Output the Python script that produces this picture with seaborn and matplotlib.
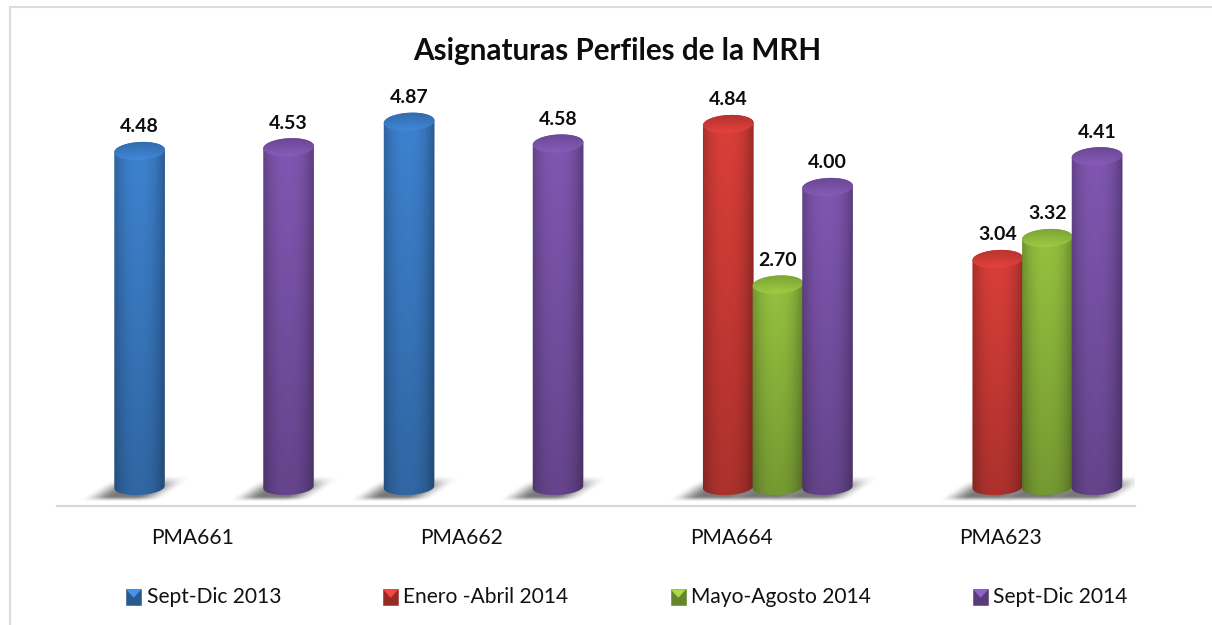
import numpy as np
import pandas as pd
import matplotlib
matplotlib.use("Agg")
import matplotlib.pyplot as plt
from matplotlib.lines import Line2D
from matplotlib.patches import Polygon, Rectangle
from matplotlib.legend_handler import HandlerBase
from matplotlib.transforms import ScaledTranslation
import seaborn as sns

categories = ["PMA661", "PMA662", "PMA664", "PMA623"]
series = ["Sept-Dic 2013", "Enero -Abril 2014", "Mayo-Agosto 2014", "Sept-Dic 2014"]
sept_dic_2013 = [4.48, 4.87, np.nan, np.nan]
enero_abril_2014 = [np.nan, np.nan, 4.84, 3.04]
mayo_agosto_2014 = [np.nan, np.nan, 2.70, 3.32]
sept_dic_2014 = [4.53, 4.58, 4.00, 4.41]
title = "Asignaturas Perfiles de la MRH"
colors = ["#3A7BC4", "#CF3B36", "#8DB83C", "#7A52A8"]

sns.set_theme(style="white")
plt.rcParams["font.family"] = ["Lato", "DejaVu Sans"]

W, H = 1212, 625
fig = plt.figure(figsize=(W / 100, H / 100), dpi=100, facecolor="white")
ax = fig.add_axes([57 / W, (H - 506) / H, (1135 - 57) / W, (506 - 70) / H])

df = pd.DataFrame({"cat": categories, series[0]: sept_dic_2013, series[1]: enero_abril_2014,
                   series[2]: mayo_agosto_2014, series[3]: sept_dic_2014})
long = df.melt(id_vars="cat", var_name="period", value_name="score")
sns.barplot(data=long, x="cat", y="score", hue="period", order=categories, hue_order=series,
            palette=colors, width=0.737, gap=0, saturation=1, errorbar=None, ax=ax, zorder=2)

xlim = ((57 - 214.1) / 269.5, (1135 - 214.1) / 269.5)
ylim = (-19 / 75, (487 - 70) / 75)
ax.set_xlim(*xlim)
ax.set_ylim(*ylim)
ax.set_autoscale_on(False)
ax.set(xlabel="", ylabel="", yticks=[])
for s in ["top", "left", "right"]:
    ax.spines[s].set_visible(False)
ax.spines["bottom"].set_color("#d9d9d9")
ax.spines["bottom"].set_linewidth(1.6)
ax.tick_params(axis="x", length=0, pad=15.5, labelsize=15.1, labelcolor="#111111")
shift = ScaledTranslation(-22 / 100, 0, fig.dpi_scale_trans)
for lab in ax.get_xticklabels():
    lab.set_transform(lab.get_transform() + shift)

px_x = 269.5
px_y = 75.0


def sm(v):
    v = np.clip(v, 0, 1)
    return v * v * (3 - 2 * v)


def rim(xc, half, cy, ry, tilt=0.05, n=60):
    """Ellipse outline of a cylinder end, in data units, tilted slightly."""
    a = np.linspace(0, 2 * np.pi, n, endpoint=False)
    xp = half * np.cos(a)
    yp = ry * np.sin(a) + tilt * xp
    return xc + xp / px_x, cy + yp / px_y


def draw_cylinder(bar, base, z):
    x0, w, h = bar.get_x(), bar.get_width(), bar.get_height()
    xc, half = x0 + w / 2, w / 2 * px_x + 0.5
    rgb = np.array(matplotlib.colors.to_rgb(base))

    # ground shadow
    xs = np.linspace(-46, w * px_x + 46, 150)
    ys = np.linspace(-16, 13, 48)
    gx, gy = np.meshgrid(xs, ys)
    t = (gy + 15) / 27
    left = -40 + 40 * t
    right = w * px_x - 6 + 40 * t
    alpha = 0.82 * sm((gx - left) / 30) * sm((right - gx) / 30) * sm(t / 0.22) * sm((1 - t) / 0.5)
    img = np.zeros(gx.shape + (4,))
    img[..., :3] = 0.36
    img[..., 3] = alpha
    ax.imshow(img, extent=(x0 + xs[0] / px_x, x0 + xs[-1] / px_x, ys[0] / px_y, ys[-1] / px_y),
              origin="lower", aspect="auto", interpolation="bilinear", zorder=1)

    # body
    tx, ty = rim(xc, half, h, 9)
    bx, by = rim(xc, half, 0, 8)
    pts = np.c_[np.r_[bx[30:], tx[:31]], np.r_[by[30:], ty[:31]]]
    sil = Polygon(pts, closed=True, transform=ax.transData, fc="none", ec="none", zorder=z)
    ax.add_patch(sil)
    bar.set_clip_path(sil)
    u = np.linspace(-1, 1, 70)
    v = np.linspace(0, 1, 60)
    gu, gv = np.meshgrid(u, v)
    across = 0.72 + 0.32 * (1 - np.abs(gu + 0.05) ** 2.4)
    down = 0.80 + 0.22 * gv
    body = np.clip(rgb[None, None, :] * (across * down)[..., None], 0, 1)
    pad = 2 / px_x
    im = ax.imshow(body, extent=(x0 - pad, x0 + w + pad, -9 / px_y, h + 10 / px_y), origin="lower",
                   aspect="auto", interpolation="bilinear", zorder=z)
    im.set_clip_path(sil)

    # cap
    cap = Polygon(np.c_[tx, ty], closed=True, transform=ax.transData, fc="none", ec="none", zorder=z + 0.1)
    ax.add_patch(cap)
    cv = np.linspace(0, 1, 24)
    cu = np.linspace(-1, 1, 50)
    gcu, gcv = np.meshgrid(cu, cv)
    shade = 1.12 - 0.30 * gcv + 0.03 * (1 - np.abs(gcu))
    cimg = np.clip(rgb[None, None, :] * shade[..., None], 0, 1)
    cim = ax.imshow(cimg, extent=(x0 - pad, x0 + w + pad, h - 12 / px_y, h + 12 / px_y), origin="lower",
                    aspect="auto", interpolation="bilinear", zorder=z + 0.1)
    cim.set_clip_path(cap)

    ax.annotate(f"{h:.2f}", (xc, h), xytext=(0, 17.3), textcoords="offset points", ha="center",
                va="center", fontsize=14, fontweight="bold", color="#0d0d0d", zorder=30)


for i, cont in enumerate(ax.containers):
    for bar in cont:
        if np.isfinite(bar.get_height()) and bar.get_height() > 0:
            draw_cylinder(bar, colors[i], 3 + i)
        else:
            bar.set_visible(False)

ax.set_xlim(*xlim)
ax.set_ylim(*ylim)

ax.set_title(title, x=(617.5 - 57) / 1078, y=(506 - 51) / 436, va="center", fontsize=21.3,
             fontweight="bold", color="#0d0d0d", pad=0)


class SquareHandler(HandlerBase):
    def create_artists(self, legend, orig, xd, yd, width, height, fontsize, trans):
        fc = matplotlib.colors.to_rgb(orig.get_facecolor())
        dark = tuple(c * 0.72 for c in fc)
        light = tuple(min(1, c * 1.2) for c in fc)
        x, y, s = -xd, -yd - 1, max(width, height)
        sq = Rectangle((x, y), s, s, fc=dark, ec=dark, lw=0.4, transform=trans)
        tri = Polygon([(x, y + s), (x + s, y + s), (x + s / 2, y + s * 0.45)], closed=True,
                      fc=light, ec="none", transform=trans)
        return [sq, tri]


handles = [Rectangle((0, 0), 1, 1, fc=c) for c in colors]
if ax.get_legend():
    ax.get_legend().remove()
ax.legend(handles, series, handler_map={Rectangle: SquareHandler()}, loc="center",
          bbox_to_anchor=(627 / W, (H - 597) / H), bbox_transform=fig.transFigure, ncol=4,
          frameon=False, fontsize=15.1, labelcolor="#111111", handlelength=0.72, handleheight=0.72,
          handletextpad=0.25, columnspacing=4.87, borderpad=0, borderaxespad=0)

fig.add_artist(Line2D([9.5 / W, 9.5 / W, 1], [0, (H - 7) / H, (H - 7) / H], transform=fig.transFigure,
                      color="#dcdcdc", lw=1.5, solid_joinstyle="miter"))

fig.savefig("out.png", dpi=100, facecolor="white")
